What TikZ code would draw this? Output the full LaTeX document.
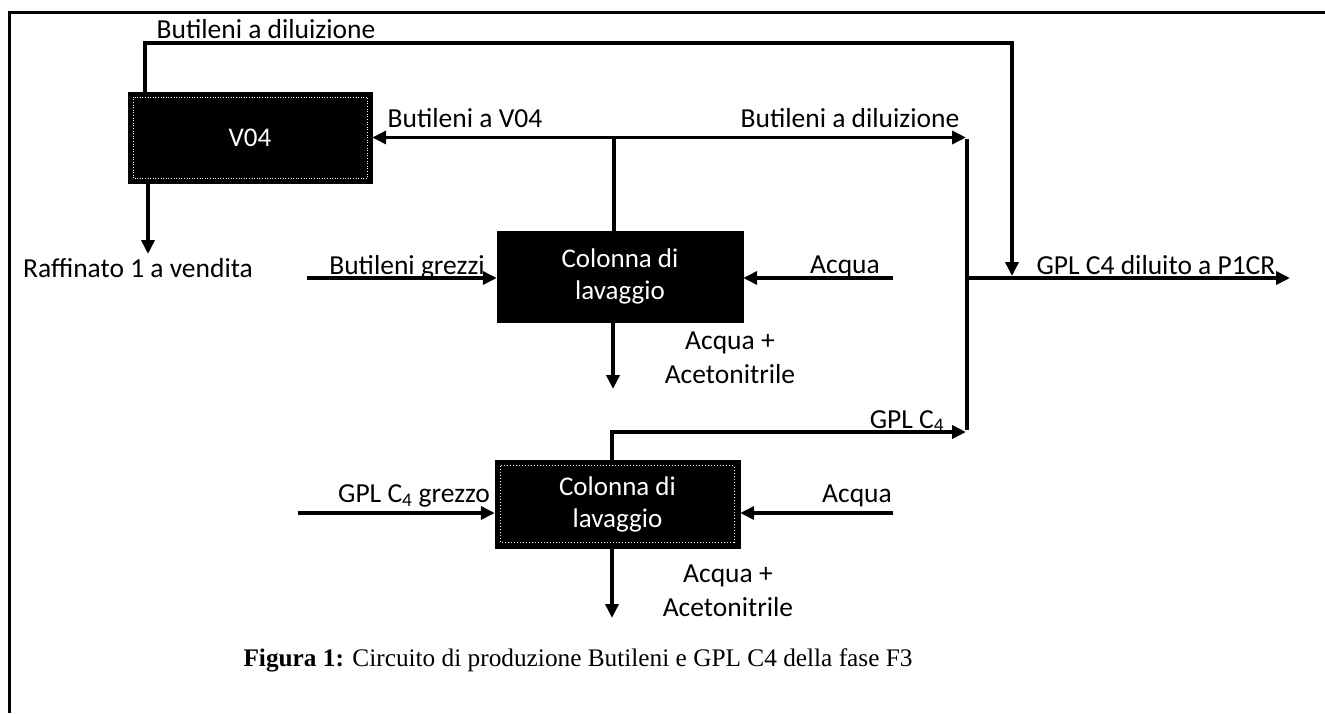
\documentclass[tikz,border=0pt]{standalone}
\usepackage{fontspec}
\setmainfont{Carlito}
\newfontfamily\capfont{Liberation Serif}
\usetikzlibrary{arrows.meta}
\begin{document}
\begin{tikzpicture}[x=1pt,y=-1pt,
  flow/.style={line width=3.6pt},
  arr/.style={line width=3.6pt,-{Triangle[length=14pt,width=13pt]}},
  blk/.style={draw=black,fill=black,text=white,inner sep=0pt,align=center,
    font=\fontsize{27}{32}\selectfont},
  inb/.style={draw=white,dotted,line width=1pt},
  lbl/.style={font=\fontsize{27.5}{34}\selectfont,inner sep=0pt,align=center},
  capt/.style={font=\capfont\fontsize{25.3}{30}\selectfont,inner sep=0pt}]
\useasboundingbox (0,0) rectangle (1325,713);
% frame
\draw[line width=3pt] (9,713) -- (9,12) -- (1325,12);
% boxes
\node[blk,minimum width=244pt,minimum height=91pt] (v04) at (250,137.5) {V04};
\node[blk,minimum width=246pt,minimum height=91pt] (c1) at (620,276.5) {Colonna di\\lavaggio};
\node[blk,minimum width=245pt,minimum height=88pt] (c2) at (617.5,504) {Colonna di\\lavaggio};
\draw[inb] ([shift={(6,6)}]c2.north west) rectangle ([shift={(-6,-6)}]c2.south east);
\draw[inb,line width=0.6pt] ([shift={(5,5)}]v04.north west) rectangle ([shift={(-5,-5)}]v04.south east);
% coordinates
\coordinate (tl) at (145,43);
\coordinate (tr) at (1012,276);
\coordinate (raf) at (148,254);
\coordinate (d1) at (966,137.5);
\coordinate (mx) at (967,278);
\coordinate (g4) at (966,432);
\coordinate (out) at (1290,278);
\coordinate (bg) at (307,278);
\coordinate (aq1) at (893,278);
\coordinate (w1) at (613,389);
\coordinate (gg) at (298,513);
\coordinate (aq2) at (893,513);
\coordinate (w2) at (612,618);
% connectors
\draw[arr] (v04.north -| tl) -- (tl) -| (tr);
\draw[arr] (v04.south -| raf) -- (raf);
\draw[arr] (c1.north -| 614,0) |- (v04.east);
\draw[arr] (c1.north -| 614,0) |- (d1);
\draw[flow] ([yshift=-1.8pt]d1 -| mx) -- ([yshift=1.8pt]g4 -| mx);
\draw[arr] (mx) -- (out);
\draw[arr] (bg) -- (bg -| c1.west);
\draw[arr] (aq1) -- (aq1 -| c1.east);
\draw[arr] (c1.south -| w1) -- (w1);
\draw[arr] (c2.north -| w2) |- (g4);
\draw[arr] (gg) -- (gg -| c2.west);
\draw[arr] (aq2) -- (aq2 -| c2.east);
\draw[arr] (c2.south -| w2) -- (w2);
% labels
\node[lbl] (l1) at (266,29) {Butileni a diluizione};
\node[lbl] (l2) at (465,118) {Butileni a V04};
\node[lbl] (l3) at (850,118) {Butileni a diluizione};
\node[lbl] (l4) at (138,268) {Raffinato 1 a vendita};
\node[lbl] (l5) at (407,267) {Butileni grezzi};
\node[lbl] (l6) at (845,267) {Acqua};
\node[lbl] (l7) at (730,358) {Acqua +\\Acetonitrile};
\node[lbl] (l8) at (1156,265) {GPL C4 diluito a P1CR};
\node[lbl] (l9) at (907,421) {GPL C\textsubscript{4}};
\node[lbl] (l10) at (414,496) {GPL C\textsubscript{4} grezzo};
\node[lbl] (l11) at (857,496) {Acqua};
\node[lbl] (l12) at (728,591) {Acqua +\\Acetonitrile};
\node[capt] (cap) at (578,660) {\textbf{Figura 1:} Circuito di produzione Butileni e GPL C4 della fase F3};
\end{tikzpicture}
\end{document}
